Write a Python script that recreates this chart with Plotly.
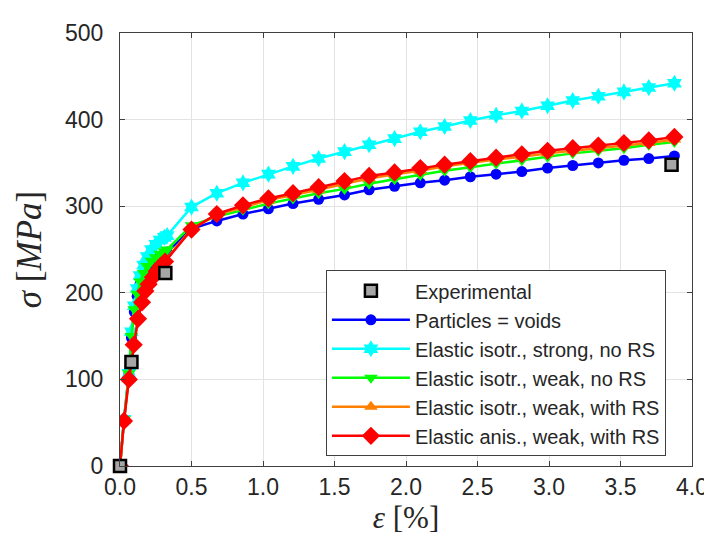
import plotly.graph_objects as go

# ---- data ----
late_eps = [0.50, 0.677, 0.86, 1.038, 1.21, 1.389, 1.57, 1.742, 1.92, 2.10,
            2.27, 2.45, 2.63, 2.81, 2.99, 3.166, 3.345, 3.524, 3.698, 3.877]

exp_eps = [0.0, 0.08, 0.317, 3.857]
exp_sig = [0.0, 120, 223, 348]

voids_eps = [0, 0.028, 0.062, 0.08, 0.10, 0.12, 0.14, 0.165, 0.19, 0.22, 0.25, 0.28, 0.31, 0.33] + late_eps
voids_sig = [0, 53, 106, 148, 178, 196, 210, 220, 228, 234, 238, 242, 245, 247,
             274, 283, 291, 297, 303, 308, 313, 319, 323, 327,
             330, 334, 337, 340, 344, 347, 350, 353, 355, 358]

strong_eps = [0, 0.028, 0.062, 0.08, 0.10, 0.12, 0.14, 0.165, 0.19, 0.22, 0.25, 0.28, 0.31, 0.33] + late_eps
strong_sig = [0, 54, 107, 155, 185, 205, 220, 232, 242, 250, 256, 261, 264, 266,
              299, 315, 327, 337, 346, 355, 363, 371, 378, 386,
              392, 399, 405, 410, 416, 422, 427, 432, 437, 442]

weak_eps = [0, 0.028, 0.062, 0.08, 0.10, 0.12, 0.14, 0.165, 0.19, 0.22, 0.25, 0.28, 0.31, 0.33] + late_eps
weak_sig = [0, 54, 107, 150, 181, 199, 213, 223, 231, 237, 241, 245, 248, 250,
            278, 288, 296, 303, 309, 315, 320, 326, 331, 336,
            341, 345, 349, 353, 357, 361, 364, 367, 371, 374]

weakrs_eps = [0, 0.028, 0.062, 0.096, 0.126, 0.154, 0.177, 0.20, 0.23, 0.257, 0.285, 0.315] + late_eps
weakrs_sig = [0, 52, 101, 141, 171, 190, 203, 211, 219, 226, 232, 237,
              274, 290, 299, 307, 313, 319, 326, 332, 337, 341,
              346, 350, 354, 357, 361, 364, 367, 370, 373, 377]

anis_eps = [0, 0.028, 0.062, 0.096, 0.126, 0.154, 0.177, 0.20, 0.23, 0.257, 0.285, 0.315] + late_eps
anis_sig = [0, 52, 100, 140, 170, 189, 202, 210, 218, 225, 231, 236,
            273, 291, 301, 309, 315, 322, 329, 335, 339, 344,
            348, 352, 356, 360, 364, 367, 370, 373, 376, 380]

x_ticks = [0.0, 0.5, 1.0, 1.5, 2.0, 2.5, 3.0, 3.5, 4.0]
y_ticks = [0, 100, 200, 300, 400, 500]

fig = go.Figure()

def sim(x, y, name, color, symbol, size, rank):
    fig.add_trace(go.Scatter(
        x=x, y=y, name=name, mode="lines+markers",
        line=dict(color=color, width=2.5),
        marker=dict(color=color, symbol=symbol, size=size, line=dict(width=0)),
        legendrank=rank,
    ))

sim(voids_eps, voids_sig, "Particles = voids", "#0000FF", "circle", 11, 2)
sim(strong_eps, strong_sig, "Elastic isotr., strong, no RS", "#00FFFF", "hexagram", 13, 3)
sim(weak_eps, weak_sig, "Elastic isotr., weak, no RS", "#00FF00", "triangle-down", 12, 4)
sim(weakrs_eps, weakrs_sig, "Elastic isotr., weak, with RS", "#FF8000", "triangle-up", 12, 5)
sim(anis_eps, anis_sig, "Elastic anis., weak, with RS", "#FF0000", "diamond", 14, 6)

fig.add_trace(go.Scatter(
    x=exp_eps, y=exp_sig, name="Experimental", mode="markers",
    marker=dict(color="#A6A6A6", symbol="square", size=12,
                line=dict(color="#000000", width=2.5)),
    cliponaxis=False, legendrank=1,
))

axis_common = dict(
    showline=True, linecolor="#404040", linewidth=1.2, mirror="ticks",
    ticks="inside", ticklen=5, tickcolor="#404040", tickwidth=1.2,
    showgrid=True, gridcolor="#E3E3E3", gridwidth=1,
    zeroline=False,
    tickfont=dict(family="Liberation Sans, Arial", size=23, color="#262626"),
)

fig.update_xaxes(
    range=[0, 4], tickvals=x_ticks, ticktext=[f"{v:.1f}" for v in x_ticks],
    title=dict(text="<i>ε</i> [%]", font=dict(family="Liberation Serif, Times New Roman", size=31, color="#262626"), standoff=6),
    ticklabelstandoff=0,
    **axis_common,
)
fig.update_yaxes(
    range=[0, 500], tickvals=y_ticks, ticktext=[str(v) for v in y_ticks],
    title=dict(text="<i>σ</i> [<i>MPa</i>]", font=dict(family="Liberation Serif, Times New Roman", size=35, color="#262626"), standoff=12),
    ticklabelstandoff=11,
    **axis_common,
)

fig.update_layout(
    width=712, height=544,
    margin=dict(l=112, r=19, t=17, b=86),
    paper_bgcolor="white", plot_bgcolor="white",
    legend=dict(
        x=0.36, y=0.452, xanchor="left", yanchor="top",
        bgcolor="white", bordercolor="#404040", borderwidth=1,
        font=dict(family="Liberation Sans, Arial", size=20, color="#262626"),
        itemwidth=78, tracegroupgap=0,
    ),
    showlegend=True,
)

fig.write_html("out.html")
